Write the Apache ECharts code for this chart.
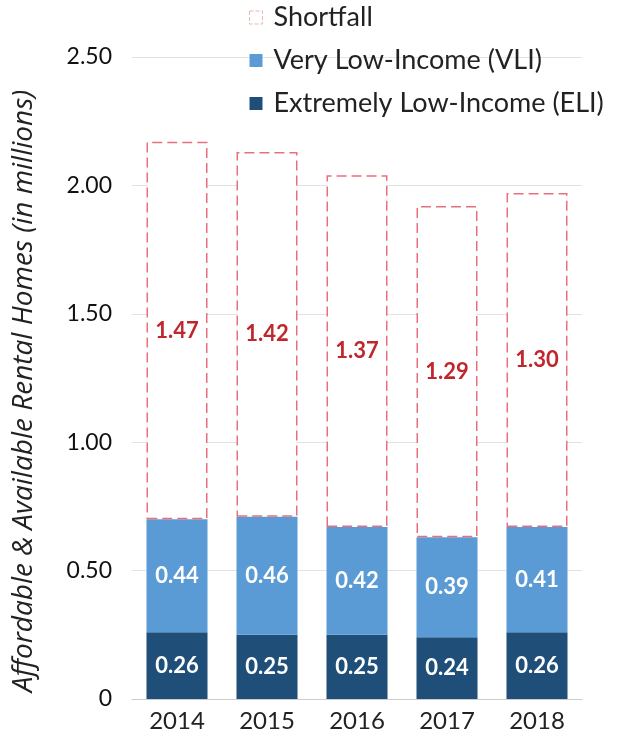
<!DOCTYPE html>
<html><head><meta charset="utf-8">
<script src="https://cdn.jsdelivr.net/npm/echarts@6/dist/echarts.min.js"></script>
<style>html,body{margin:0;padding:0;background:#fff}#c{width:626px;height:736px}</style>
</head><body><div id="c"></div>
<script>
const years = ['2014','2015','2016','2017','2018'];
const eli = [0.26,0.25,0.25,0.24,0.26];
const vli = [0.44,0.46,0.42,0.39,0.41];
const shortfall = [1.47,1.42,1.37,1.29,1.30];
const yTicks = [0,0.5,1,1.5,2,2.5];

const F = 'Lato, "Open Sans", sans-serif';
const chart = echarts.init(document.getElementById('c'));
chart.setOption({
  animation:false,
  textStyle:{fontFamily:F},
  grid:{left:132,right:44,top:57,bottom:37,containLabel:false},
  legend:{
    orient:'vertical', left:244, top:-1, itemGap:16, itemWidth:13, itemHeight:13,
    textStyle:{fontSize:27,color:'#222',fontFamily:F,padding:[0,0,0,6]},
    data:[
      {name:'Shortfall', icon:'rect', itemStyle:{color:'#fff',borderColor:'#e8b8a8',borderType:'dashed',borderWidth:1}},
      {name:'Very Low-Income (VLI)', icon:'rect'},
      {name:'Extremely Low-Income (ELI)', icon:'rect'}
    ]
  },
  xAxis:{type:'category',data:years,
    axisLine:{lineStyle:{color:'#cccccc'}},axisTick:{show:false},
    axisLabel:{fontSize:24,color:'#222',margin:10}},
  yAxis:{type:'value',min:yTicks[0],max:yTicks[yTicks.length-1],interval:0.5,
    name:'Affordable & Available Rental Homes (in millions)',
    nameLocation:'middle',nameGap:94,nameRotate:90,
    nameTextStyle:{fontSize:28,fontStyle:'italic',color:'#222',fontFamily:'"Open Sans", Lato, sans-serif',padding:[0,26,0,0]},
    axisLabel:{fontSize:23,color:'#111',margin:20,formatter:v=>v===0?'0':v.toFixed(2)},
    splitLine:{lineStyle:{color:'#e3e3e3'}},axisLine:{show:false},axisTick:{show:false}},
  series:[
    {name:'Extremely Low-Income (ELI)',type:'bar',stack:'a',data:eli,barWidth:61,
      itemStyle:{color:'#1f4e79'},
      label:{show:true,position:'inside',color:'#fff',fontWeight:'bold',fontSize:22,formatter:p=>p.value.toFixed(2)}},
    {name:'Very Low-Income (VLI)',type:'bar',stack:'a',data:vli,barWidth:61,
      itemStyle:{color:'#5b9bd5'},
      label:{show:true,position:'inside',color:'#fff',fontWeight:'bold',fontSize:22,formatter:p=>p.value.toFixed(2)}},
    {name:'Shortfall',type:'bar',stack:'a',data:shortfall,barWidth:61,
      itemStyle:{color:'#fff',borderColor:'#e8707a',borderType:[10,5],borderWidth:1.5},
      label:{show:true,position:'inside',color:'#c0272d',fontWeight:'bold',fontSize:22,formatter:p=>p.value.toFixed(2)}}
  ]
});
</script></body></html>
